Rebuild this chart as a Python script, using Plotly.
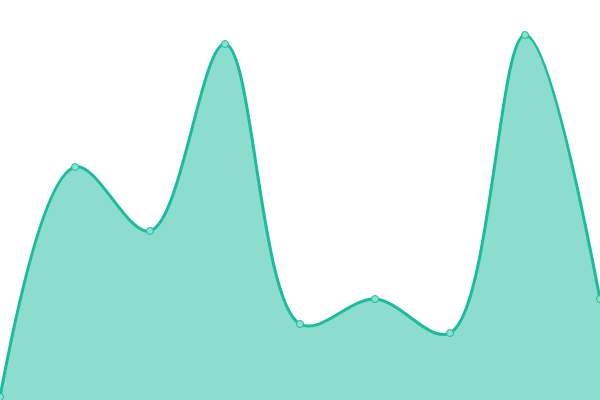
import plotly.graph_objects as go

# point index along the x axis
x = [0, 1, 2, 3, 4, 5, 6, 7, 8]
# values (0 = bottom edge, 400 = top edge)
values = [3, 233, 169, 356, 76, 101, 67, 365, 101]

line_color = "#1abc9c"
fill_color = "rgba(26,188,156,0.5)"

fig = go.Figure()
fig.add_trace(go.Scatter(
    x=x, y=values,
    mode="lines+markers",
    line=dict(color=line_color, width=3, shape="spline", smoothing=1),
    fill="tozeroy",
    fillcolor=fill_color,
    marker=dict(size=7, color="#8be0cf", line=dict(color=line_color, width=1)),
    cliponaxis=False,
    hoverinfo="skip",
))

fig.update_layout(
    width=600, height=400,
    margin=dict(l=0, r=0, t=0, b=0),
    paper_bgcolor="white",
    plot_bgcolor="white",
    showlegend=False,
    xaxis=dict(visible=False, range=[0, 8], fixedrange=True),
    yaxis=dict(visible=False, range=[0, 400], fixedrange=True),
)

# drop the browser's default body margin so the chart fills the window
fig.write_html(
    "out.html",
    config={"displayModeBar": False},
    post_script="document.body.style.margin='0';document.body.style.overflow='hidden';",
)
